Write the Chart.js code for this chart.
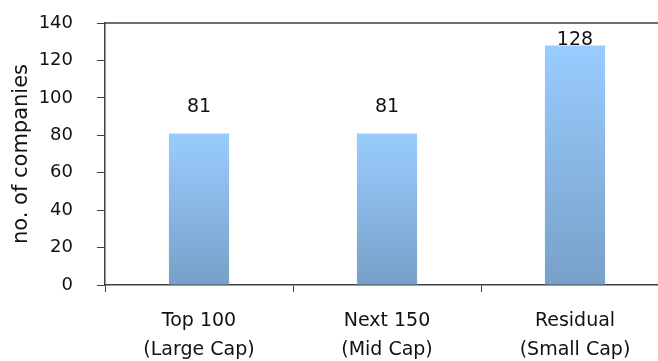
<!DOCTYPE html>
<html>
<head>
<meta charset="utf-8">
<script src="https://cdn.jsdelivr.net/npm/chart.js@4"></script>
<style>
  html, body { margin: 0; padding: 0; background: #fff; overflow: hidden; }
  #wrap { width: 670px; height: 361px; }
</style>
</head>
<body>
<div id="wrap"><canvas id="chart"></canvas></div>
<script>
// ---------------- DATA ----------------
const categories = [['Top 100', '(Large Cap)'], ['Next 150', '(Mid Cap)'], ['Residual', '(Small Cap)']];
const companies = [81, 81, 128];
const yTicks = [0, 20, 40, 60, 80, 100, 120, 140];
const yTitle = 'no. of companies';

const FONT = '"DejaVu Sans", sans-serif';

// -------- GRADIENT PER BAR --------
function barFill(ctx) {
  const chart = ctx.chart;
  const { chartArea } = chart;
  if (!chartArea) return '#8db8e6';
  const yScale = chart.scales.y;
  const top = yScale.getPixelForValue(ctx.raw);
  const bottom = yScale.getPixelForValue(0);
  const g = chart.ctx.createLinearGradient(0, top, 0, bottom);
  g.addColorStop(0, '#99ccff');
  g.addColorStop(1, '#78a0c8');
  return g;
}

// value labels above bars, kept inside the plot top
const valueLabels = {
  id: 'valueLabels',
  afterDatasetsDraw(chart) {
    const c = chart.ctx;
    const meta = chart.getDatasetMeta(0);
    c.save();
    c.font = '19px ' + FONT;
    c.fillStyle = '#111';
    c.textAlign = 'center';
    c.textBaseline = 'middle';
    meta.data.forEach((bar, i) => {
      const y = Math.max(bar.y - 26, chart.chartArea.top + 17);
      c.fillText(String(companies[i]), bar.x, y);
    });
    c.restore();
  }
};

// top border of the plot area
const topBorder = {
  id: 'topBorder',
  afterDraw(chart) {
    const { left, right, top } = chart.chartArea;
    const c = chart.ctx;
    c.save();
    c.strokeStyle = '#404040';
    c.lineWidth = 1.5;
    c.beginPath();
    c.moveTo(left, top);
    c.lineTo(right, top);
    c.stroke();
    c.restore();
  }
};

new Chart(document.getElementById('chart'), {
  type: 'bar',
  data: {
    labels: categories,
    datasets: [{
      data: companies,
      backgroundColor: barFill,
      borderWidth: 0,
      barPercentage: 0.32,
      categoryPercentage: 1
    }]
  },
  options: {
    responsive: true,
    maintainAspectRatio: false,
    animation: false,
    layout: { padding: { top: 23, right: 1, left: 0, bottom: 0 } },
    plugins: {
      legend: { display: false },
      tooltip: { enabled: false }
    },
    scales: {
      x: {
        afterFit: s => { s.height = 76; s.paddingLeft = 0; s.paddingRight = 0; },
        grid: { display: true, drawOnChartArea: false, tickLength: 7, color: '#404040', lineWidth: 1 },
        border: { color: '#404040', width: 1.5 },
        ticks: { color: '#111', font: { family: FONT, size: 19, lineHeight: 1.5 }, padding: 15, maxRotation: 0 }
      },
      y: {
        min: 0,
        max: 140,
        afterBuildTicks: s => { s.ticks = yTicks.map(v => ({ value: v })); },
        afterFit: s => { s.width = 105; s.paddingTop = 0; s.paddingBottom = 0; },
        grid: { display: true, drawOnChartArea: false, tickLength: 8, color: '#404040', lineWidth: 1 },
        border: { color: '#404040', width: 1.5 },
        ticks: { color: '#111', font: { family: FONT, size: 18 }, padding: 24 },
        title: { display: true, text: yTitle, color: '#111', font: { family: FONT, size: 21 }, padding: { top: 9, bottom: 0 } }
      }
    }
  },
  plugins: [valueLabels, topBorder]
});
</script>
</body>
</html>
